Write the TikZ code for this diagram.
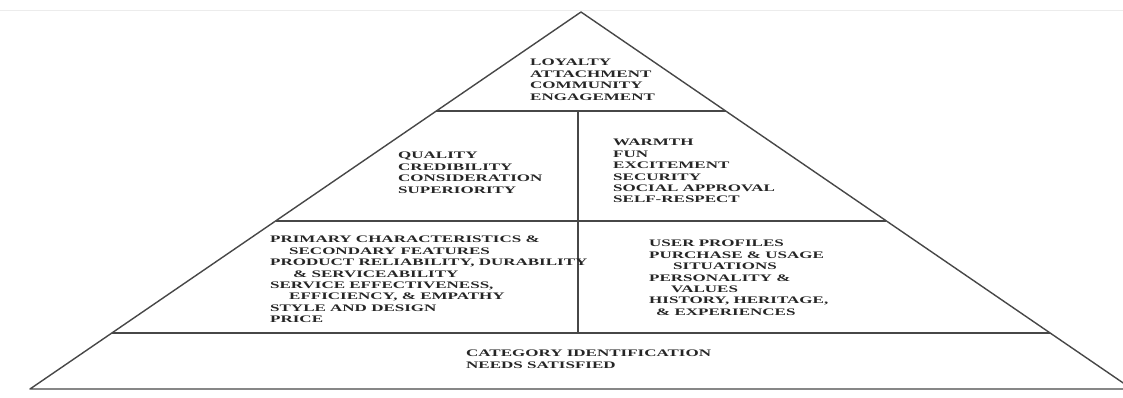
\documentclass[tikz,border=0pt]{standalone}
\usepackage{fontspec}
\newfontfamily\pyr[FakeStretch=1.7]{Liberation Serif}
\usetikzlibrary{calc}
\newcommand\ind[1]{\hbox to #1{}}
\tikzset{
  edge/.style={line width=1.4pt, draw=black!72},
  lbl/.style={anchor=north west, inner sep=0pt, align=left, text=black!85,
    font=\pyr\bfseries\fontsize{10}{11.4}\selectfont}
}
\begin{document}
\begin{tikzpicture}[x=1pt,y=-1pt]
\useasboundingbox (0,0) rectangle (1123,397);
\fill[white] (0,0) rectangle (1123,397);
\begin{scope}
\clip (0,0) rectangle (1123,397);
\draw[gray!15, line width=1pt] (0,10) -- (1123,10);
\coordinate (A) at (581,12);
\coordinate (L) at (30,389);
\coordinate (R) at (1132,389);
\coordinate (L1) at ($(A)!0.2626!(L)$);
\coordinate (R1) at ($(A)!0.2626!(R)$);
\coordinate (L2) at ($(A)!0.5544!(L)$);
\coordinate (R2) at ($(A)!0.5544!(R)$);
\coordinate (L3) at ($(A)!0.8515!(L)$);
\coordinate (R3) at ($(A)!0.8515!(R)$);
\coordinate (V1) at (578,111);
\coordinate (V2) at (578,333);
\draw[edge, line join=round] (L) -- (A) -- (R) -- cycle;
\draw[edge] (L1) -- (R1);
\draw[edge] (L2) -- (R2);
\draw[edge] (L3) -- (R3);
\draw[edge] (V1) -- (V2);
\end{scope}
\node[lbl] (top) at (530,59) {LOYALTY\\ATTACHMENT\\COMMUNITY\\ENGAGEMENT};
\node[lbl] (ql) at (398,152) {QUALITY\\CREDIBILITY\\CONSIDERATION\\SUPERIORITY};
\node[lbl] (wr) at (613,139) {WARMTH\\FUN\\EXCITEMENT\\SECURITY\\SOCIAL APPROVAL\\SELF-RESPECT};
\node[lbl] (pr) at (270,236) {PRIMARY CHARACTERISTICS \&\\\ind{19pt}SECONDARY FEATURES\\PRODUCT RELIABILITY, DURABILITY\\\ind{23pt}\& SERVICEABILITY\\SERVICE EFFECTIVENESS,\\\ind{19pt}EFFICIENCY, \& EMPATHY\\STYLE AND DESIGN\\PRICE};
\node[lbl] (us) at (649,240) {USER PROFILES\\PURCHASE \& USAGE\\\ind{24pt}SITUATIONS\\PERSONALITY \&\\\ind{22pt}VALUES\\HISTORY, HERITAGE,\\\ind{7pt}\& EXPERIENCES};
\node[lbl] (ct) at (466,350) {CATEGORY IDENTIFICATION\\NEEDS SATISFIED};
\end{tikzpicture}
\end{document}
